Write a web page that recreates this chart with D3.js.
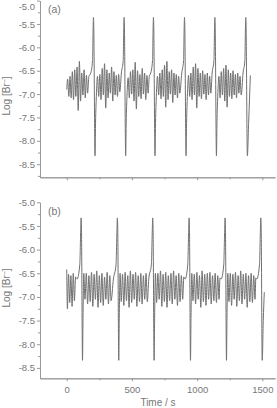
<!DOCTYPE html>
<html>
<head>
<meta charset="utf-8">
<script src="https://cdn.jsdelivr.net/npm/d3@7"></script>
<style>
  body { margin: 0; background: #fff; }
  text { font-family: "Liberation Sans", Arial, sans-serif; fill: #777; }
</style>
</head>
<body>
<div id="chart"></div>
<script>
// panel (a) : time (s) and log[Br-]
const timeA = [
  0, 7, 16, 25, 34, 43, 52, 61, 70, 79, 88, 97, 106, 115, 124, 133, 142, 151, 160, 170,
  184, 198, 203, 205, 207, 217, 221, 227,
  236, 245, 254, 263, 272, 281, 290, 299, 308, 317, 326, 335, 344, 353, 362, 371, 380, 389, 398, 407,
  419, 433, 438, 440, 442, 452, 456, 462,
  471, 480, 489, 498, 507, 516, 525, 534, 543, 552, 561, 570, 579, 588, 597, 606, 615, 624, 633,
  644, 658, 663, 665, 667, 677, 681, 687,
  696, 705, 714, 723, 732, 741, 750, 759, 768, 777, 786, 795, 804, 813, 822, 831, 840, 849, 858, 867,
  882, 896, 901, 903, 905, 915, 919, 925,
  934, 943, 952, 961, 970, 979, 988, 997, 1006, 1015, 1024, 1033, 1042, 1051, 1060, 1069, 1078, 1087, 1096, 1105,
  1115, 1129, 1134, 1136, 1138, 1148, 1152, 1158,
  1167, 1176, 1185, 1194, 1203, 1212, 1221, 1230, 1239, 1248, 1257, 1266, 1275, 1284, 1293, 1302, 1311, 1320, 1329, 1338,
  1352, 1366, 1371, 1373, 1375, 1385, 1395, 1408
]
const logBrA = [
  -6.90, -6.68, -7.05, -6.62, -7.08, -6.52, -7.12, -6.48, -7.05, -6.42, -7.35, -6.30, -7.15, -6.55, -7.02, -6.48, -7.08, -6.60, -6.98, -6.62,
  -6.55, -6.28, -5.50, -5.36, -5.50, -8.32, -7.60, -7.05,
  -6.62, -7.05, -6.58, -7.12, -6.45, -7.02, -6.35, -7.30, -6.48, -7.08, -6.55, -6.98, -6.42, -7.15, -6.52, -7.02, -6.60, -7.05, -6.58, -6.95,
  -6.55, -6.28, -5.50, -5.36, -5.50, -8.32, -7.60, -7.05,
  -6.65, -7.08, -6.52, -7.00, -6.48, -7.15, -6.32, -7.32, -6.50, -7.05, -6.58, -7.10, -6.45, -7.00, -6.55, -7.12, -6.60, -6.98, -6.62,
  -6.55, -6.28, -5.50, -5.36, -5.50, -8.32, -7.60, -7.05,
  -6.62, -7.02, -6.55, -7.10, -6.48, -7.05, -6.38, -7.28, -6.30, -7.12, -6.52, -7.00, -6.48, -7.18, -6.55, -7.02, -6.58, -7.08, -6.62, -6.98,
  -6.55, -6.28, -5.50, -5.36, -5.50, -8.32, -7.60, -7.05,
  -6.60, -7.05, -6.55, -7.12, -6.42, -7.02, -6.35, -7.30, -6.45, -7.05, -6.55, -7.10, -6.50, -7.00, -6.58, -7.12, -6.55, -7.02, -6.62, -6.98,
  -6.55, -6.28, -5.50, -5.36, -5.50, -8.32, -7.60, -7.05,
  -6.62, -7.08, -6.52, -7.02, -6.45, -7.15, -6.38, -7.28, -6.48, -7.05, -6.55, -7.10, -6.50, -7.02, -6.58, -7.08, -6.55, -6.98, -6.62, -7.02,
  -6.55, -6.28, -5.50, -5.36, -5.50, -8.32, -7.60, -6.60
]

// panel (b)
const timeB = [
  0, 5, 14, 23, 32, 41, 50, 59, 68,
  80, 100, 107, 110, 113, 121, 125, 131,
  140, 150, 160, 170, 180, 190, 200, 210, 220, 230, 240, 250, 260, 270, 280, 290, 300, 310, 320, 330, 340,
  358, 378, 385, 388, 391, 399, 403, 409,
  418, 428, 438, 448, 458, 468, 478, 488, 498, 508, 518, 528, 538, 548, 558, 568, 578, 588, 598, 608, 618,
  629, 649, 656, 659, 662, 670, 674, 680,
  689, 699, 709, 719, 729, 739, 749, 759, 769, 779, 789, 799, 809, 819, 829, 839, 849, 859, 869, 879, 889, 898,
  908, 928, 935, 938, 941, 949, 953, 959,
  968, 978, 988, 998, 1008, 1018, 1028, 1038, 1048, 1058, 1068, 1078, 1088, 1098, 1108, 1118, 1128, 1138, 1148, 1158, 1168, 1175,
  1184, 1204, 1211, 1214, 1217, 1225, 1229, 1235,
  1244, 1254, 1264, 1274, 1284, 1294, 1304, 1314, 1324, 1334, 1344, 1354, 1364, 1374, 1384, 1394, 1404, 1414, 1424, 1434, 1444, 1450,
  1458, 1478, 1485, 1488, 1491, 1499, 1507, 1515
]
const logBrB = [
  -6.42, -7.25, -6.52, -7.12, -6.55, -7.20, -6.50, -7.08, -6.58,
  -6.62, -6.32, -5.60, -5.33, -5.55, -8.34, -7.40, -6.50,
  -7.05, -6.50, -7.15, -6.55, -7.10, -6.48, -7.20, -6.52, -7.05, -6.45, -7.22, -6.55, -7.12, -6.50, -7.18, -6.58, -7.05, -6.48, -7.15, -6.55, -7.08,
  -6.62, -6.32, -5.60, -5.33, -5.55, -8.34, -7.40, -6.50,
  -7.10, -6.52, -7.18, -6.48, -7.08, -6.55, -7.22, -6.45, -7.12, -6.52, -7.05, -6.48, -7.20, -6.55, -7.10, -6.50, -7.15, -6.55, -7.05, -6.50, -7.10,
  -6.62, -6.32, -5.60, -5.33, -5.55, -8.34, -7.40, -6.50,
  -7.12, -6.50, -7.05, -6.45, -7.20, -6.52, -7.10, -6.48, -7.22, -6.55, -7.08, -6.50, -7.15, -6.45, -7.05, -6.55, -7.18, -6.50, -7.10, -6.55, -7.05, -6.58,
  -6.62, -6.32, -5.60, -5.33, -5.55, -8.34, -7.40, -6.50,
  -7.08, -6.52, -7.15, -6.48, -7.05, -6.55, -7.22, -6.45, -7.10, -6.52, -7.18, -6.50, -7.05, -6.48, -7.15, -6.55, -7.08, -6.50, -7.12, -6.55, -7.05, -6.60,
  -6.62, -6.32, -5.60, -5.33, -5.55, -8.34, -7.40, -6.50,
  -7.10, -6.50, -7.18, -6.52, -7.05, -6.48, -7.20, -6.55, -7.08, -6.45, -7.15, -6.52, -7.05, -6.50, -7.22, -6.55, -7.10, -6.50, -7.12, -6.55, -7.05, -6.60,
  -6.62, -6.32, -5.60, -5.33, -5.55, -8.34, -7.50, -6.90
]

const yTicks = [-8.5, -8.0, -7.5, -7.0, -6.5, -6.0, -5.5, -5.0]
const yMinor = [-8.75, -8.25, -7.75, -7.25, -6.75, -6.25, -5.75, -5.25]
const xTicks = [0, 500, 1000, 1500]
const xMinor = [250, 750, 1250]
const panelNames = ['(a)', '(b)']

const W = 277, H = 408

const svg = d3.select('#chart')
              .append('svg')
              .attr('width', W)
              .attr('height', H)

const x = d3.scaleLinear().domain([-205, 1597]).range([40, 275])

const panels = [
    {name: panelNames[0], t: timeA, v: logBrA, y: d3.scaleLinear().domain([-8.78, -5.0]).range([177.3, 0.6]), labels: false, ly: 96},
    {name: panelNames[1], t: timeB, v: logBrB, y: d3.scaleLinear().domain([-8.72, -5.0]).range([378.3, 202.3]), labels: true, ly: 288}
]

panels.forEach(p => {
    const g = svg.append('g')
    const y0 = p.y.range()[0]
    const ytop = p.y.range()[1]

    // minor ticks
    g.append('g')
        .attr('transform', `translate(40,0)`)
        .call(d3.axisLeft(p.y).tickValues(yMinor.filter(d => d >= p.y.domain()[0])).tickSize(2).tickSizeOuter(0).tickFormat(''))
    g.append('g')
        .attr('transform', `translate(0,${y0})`)
        .call(d3.axisBottom(x).tickValues(xMinor).tickSize(2).tickSizeOuter(0).tickFormat(''))

    // major axes
    const ya = g.append('g')
        .attr('transform', `translate(40,0)`)
        .call(d3.axisLeft(p.y).tickValues(yTicks).tickSize(3).tickSizeOuter(0).tickPadding(2).tickFormat(d3.format('.1f')))
    g.append('g')
        .attr('transform', `translate(0,${y0})`)
        .call(d3.axisBottom(x).tickValues(xTicks).tickSize(3).tickSizeOuter(0).tickPadding(5)
              .tickFormat(p.labels ? d3.format('d') : ''))

    g.selectAll('.domain, .tick line').attr('stroke', '#999')
    g.selectAll('.tick text').attr('fill', '#777').style('font-size', '9.5px')
    ya.selectAll('.tick text').text(d => d3.format('.1f')(d).replace('−', '-'))
    // top label sits at the very edge in panel (a); nudge it inside
    ya.selectAll('.tick text').filter(d => p.y(d) < 4).attr('dy', '0.9em')

    g.append('text')
        .attr('x', 48).attr('y', ytop + 12.5)
        .style('font-size', '10.5px')
        .text(p.name)

    g.append('text')
        .attr('transform', `translate(10,${p.ly}) rotate(-90)`)
        .attr('text-anchor', 'middle')
        .style('font-size', '10px')
        .html('Log [Br<tspan dy="-3" font-size="7">−</tspan><tspan dy="3">]</tspan>')

    const data = p.t.map((t, i) => [t, p.v[i]])
    g.append('path')
        .datum(data)
        .attr('fill', 'none')
        .attr('stroke', '#707070')
        .attr('stroke-width', 1)
        .attr('d', d3.line().x(d => x(d[0])).y(d => p.y(d[1])).curve(d3.curveMonotoneX))
})

svg.append('text')
    .attr('x', 158).attr('y', 406)
    .attr('text-anchor', 'middle')
    .style('font-size', '10px')
    .text('Time / s')
</script>
</body>
</html>
